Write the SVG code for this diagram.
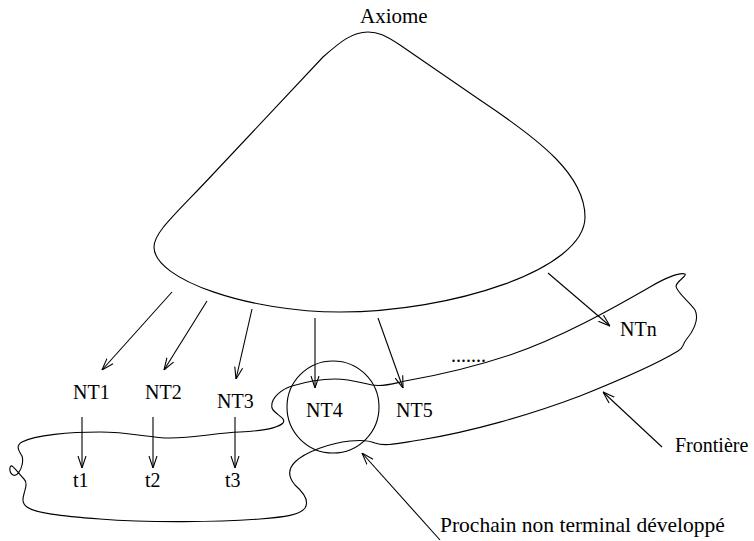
<svg xmlns="http://www.w3.org/2000/svg" width="754" height="541" viewBox="0 0 754 541">
  <style>
    .ln { fill: none; stroke: #000; stroke-width: 1.1; }
    .lbl { font-family: "Liberation Serif", "Times New Roman", serif; font-size: 20px; fill: #000; }
  </style>
  <defs>
    <marker id="open" viewBox="0 0 12 10" refX="12" refY="5" markerWidth="12" markerHeight="10" markerUnits="userSpaceOnUse" orient="auto">
      <path d="M0,1 L12,5 L0,9" fill="none" stroke="#000" stroke-width="1.1"/>
    </marker>
  </defs>
  <rect width="754" height="541" fill="#fff"/>

  <!-- derivation tree rooted at the axiom -->
  <g id="axiome">
    <path class="ln" d="M368,32 C352,32 340,42 323,57 L215,172 C175,215 154,232 154,247 C154,280 250,312 340,312 C450,312 585,270 585,217 C585,175 540,140 480,100 L400,45 C385,35 378,32 368,32 Z"/>
    <text class="lbl" x="360" y="23" style="font-size:21px">Axiome</text>
  </g>

  <!-- frontier band -->
  <g id="frontiere">
    <path class="ln" d="M22,456 C19,451 15,446 22,442 C35,435 70,432 100,432 C130,432 150,438 170,438 C195,438 215,433 240,432 C260,431 278,428 283,423 C287,418 274,414 272,408 C270,398 282,389 292,386 C305,382 320,379 335,379 C350,379 362,383 372,385 C385,387 395,383 405,381 C440,375 480,365 510,355 C560,338 610,310 650,287 C665,278 680,272 685,274 C687,276 677,281 676,286 C676,292 690,302 695,310 C700,320 692,333 686,340 C682,345 684,348 678,351 C660,362 620,380 580,396 C530,415 470,432 420,440 C400,443 385,447 375,443 C368,440 360,440 350,441 C330,443 305,452 295,462 C287,470 289,478 295,485 C303,492 310,500 305,508 C300,515 285,517 260,519 C220,522 150,523 100,519 C60,516 35,513 27,507 C20,502 24,495 25,490 C27,484 26,481 24,479 C20,475 15,468 12,466 C9,465 9,473 13,475 C17,477 21,470 22,465 C23,461 23,459 22,456 Z"/>
    <text class="lbl" x="675" y="452">Frontière</text>
  </g>

  <!-- next non-terminal to expand -->
  <g id="nt4">
    <circle class="ln" cx="333" cy="407" r="46"/>
    <text class="lbl" x="306" y="417">NT4</text>
  </g>

  <g id="nt1"><text class="lbl" x="73" y="399">NT1</text></g>
  <g id="nt2"><text class="lbl" x="145" y="399">NT2</text></g>
  <g id="nt3"><text class="lbl" x="217" y="408">NT3</text></g>
  <g id="nt5"><text class="lbl" x="396" y="417">NT5</text></g>
  <g id="ntn"><text class="lbl" x="620" y="336">NTn</text></g>
  <g id="dots"><text class="lbl" x="451" y="362">.......</text></g>
  <g id="t1"><text class="lbl" x="73" y="487">t1</text></g>
  <g id="t2"><text class="lbl" x="145" y="487">t2</text></g>
  <g id="t3"><text class="lbl" x="225" y="487">t3</text></g>
  <g id="prochain"><text class="lbl" x="440" y="532" style="font-size:21.5px">Prochain non terminal développé</text></g>

  <g id="connectors">
    <line class="ln" x1="172" y1="292" x2="102" y2="370" marker-end="url(#open)"/>
    <line class="ln" x1="207" y1="301" x2="164" y2="370" marker-end="url(#open)"/>
    <line class="ln" x1="252" y1="309" x2="236" y2="379" marker-end="url(#open)"/>
    <line class="ln" x1="315" y1="318" x2="315" y2="388" marker-end="url(#open)"/>
    <line class="ln" x1="378" y1="318" x2="403" y2="388" marker-end="url(#open)"/>
    <line class="ln" x1="548" y1="273" x2="610" y2="326" marker-end="url(#open)"/>
    <line class="ln" x1="82" y1="417" x2="82" y2="468" marker-end="url(#open)"/>
    <line class="ln" x1="153" y1="417" x2="153" y2="468" marker-end="url(#open)"/>
    <line class="ln" x1="235" y1="417" x2="235" y2="468" marker-end="url(#open)"/>
    <line class="ln" x1="662" y1="447" x2="603" y2="392" marker-end="url(#open)"/>
    <line class="ln" x1="440" y1="540" x2="362" y2="453" marker-end="url(#open)"/>
  </g>
</svg>
